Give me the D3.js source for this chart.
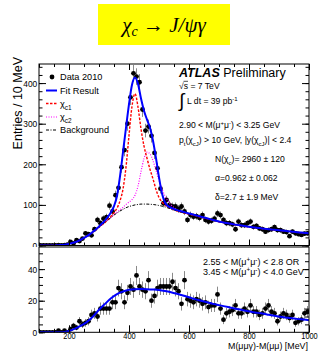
<!DOCTYPE html>
<html>
<head>
<meta charset="utf-8">
<script src="https://cdn.jsdelivr.net/npm/d3@7"></script>
<style>
  body { margin: 0; background: #fff; }
  svg { display: block; font-family: "Liberation Sans", Arial, Helvetica, sans-serif; }
</style>
</head>
<body>
<div id="chart"></div>
<script>
// bin centres (10 MeV bins from 100 to 1000 MeV)
const binCenters = d3.range(105, 1000, 10);

// signal region: entries per bin
const signalCounts = [
  0, 0, 0, 0, 0, 0, 1, 0, 1, 2,
  9, 5, 13, 11, 17, 30, 28, 25, 40, 63,
  55, 66, 70, 98, 84, 124, 142, 193, 235, 300,
  365, 424, 416, 402, 335, 283, 293, 270, 228, 190,
  140, 104, 112, 100, 96, 96, 90, 96, 84, 63,
  75, 71, 72, 68, 75, 63, 59, 61, 66, 79,
  75, 63, 55, 55, 52, 40, 59, 50, 50, 55,
  59, 46, 48, 42, 40, 34, 38, 40, 45, 38,
  38, 34, 33, 23, 34, 30, 28, 26, 29, 30
];

// sideband region: entries per bin
const sidebandCounts = [
  0, 0, 0, 0, 0, 0, 1, 0, 1, 0,
  2, 4, 3, 7, 5, 6, 7, 11, 12, 10,
  15, 15, 15, 15, 19, 19, 28, 26, 19, 25,
  29, 27, 36, 29, 27, 26, 33, 20, 23, 28,
  29, 29, 29, 29, 32, 28, 26, 18, 33, 21,
  20, 19, 21, 20, 18, 19, 16, 17, 17, 24,
  15, 8, 12, 13, 14, 17, 12, 12, 15, 13,
  17, 13, 13, 11, 12, 15, 17, 13, 12, 7,
  10, 12, 11, 9, 11, 6, 7, 8, 12, 13
];

// fit curves, sampled every 10 MeV from 100 to 1000
const fitGrid = d3.range(100, 1001, 10);
const fitTotal = [
  0, 0, 0, 0, 0, 0.2, 0.5, 1, 1.5, 2.5,
  4, 6, 8, 11, 14.5, 18.5, 23, 28, 34, 40,
  47, 54, 62, 71, 82, 97, 122, 170, 230, 290,
  348, 396, 414, 398, 362, 332, 310, 290, 258, 215,
  168, 128, 106, 97, 93, 90, 87, 85, 83, 81,
  79, 77, 75, 73, 71, 69, 67, 65, 63, 61,
  59, 57.6, 56.2, 54.8, 53.4, 52, 50.8, 49.6, 48.4, 47.2,
  46, 45.1, 44.2, 43.3, 42.4, 41.5, 40.7, 39.9, 39.1, 38.4,
  37.7, 36.9, 36.1, 35.3, 34.5, 33.7, 32.9, 32.1, 31.3, 30.6,
  30
];
const fitBkg = [
  0, 0, 0, 0, 0, 0, 0.3, 0.8, 1.5, 2.5,
  4, 6, 8, 11, 14.5, 18.5, 23, 28, 33.5, 39,
  45, 51, 57, 63, 69, 75, 80, 85, 89, 93,
  96, 98, 100, 101, 102, 102, 102, 101.5, 101, 100,
  98.5, 97, 95, 92.5, 90, 87.5, 85, 83, 81, 79,
  77.5, 75.7, 73.8, 71.9, 70, 68.1, 66.2, 64.3, 62.4, 60.5,
  58.6, 57.2, 55.8, 54.4, 53, 51.7, 50.5, 49.3, 48.1, 46.9,
  45.7, 44.8, 43.9, 43, 42.1, 41.2, 40.4, 39.6, 38.8, 38.1,
  37.4, 36.6, 35.8, 35, 34.2, 33.4, 32.6, 31.8, 31, 30.3,
  29.7
];
// chi_c1 / chi_c2 signal parts, every 10 MeV from 300 to 590 (zero elsewhere)
const peakGrid = d3.range(300, 600, 10);
const chi1Signal = [
  0, 0, 0, 1, 3, 6, 12, 25, 50, 100,
  175, 245, 274, 240, 185, 143, 113, 86, 63, 38,
  20, 10, 5, 2.5, 1, 0.5, 0, 0, 0, 0
];
const chi2Signal = [
  0, 0, 0, 0, 0, 1, 2, 3, 5, 8,
  11, 15, 24, 45, 80, 112, 128, 124, 108, 85,
  62, 42, 27, 17, 10, 6, 3, 2, 1, 0.5
];

// sideband fit, every 20 MeV from 100 to 1000
const sideFitGrid = d3.range(100, 1001, 20);
const sideFit = [
  0, 0, 0, 0, 0.1, 0.8, 2.3, 4.2, 6.6, 10,
  14.3, 18, 21.5, 24.2, 25.8, 26.9, 27.3, 27.4, 27.3, 27.1,
  26.8, 26.2, 25.4, 24.4, 23.3, 22.2, 21, 20, 19, 18,
  17.2, 16.4, 15.6, 14.8, 14, 13.3, 12.6, 12, 11.3, 10.6,
  10, 9.4, 9, 8.5, 8.1, 7.7
];

const upTicks = [0, 100, 200, 300, 400];
const lowTicks = [0, 20, 40];
const xTicks = [200, 400, 600, 800, 1000];

const W = 320, H = 351;
const svg = d3.select('#chart').append('svg').attr('width', W).attr('height', H);

// title box
svg.append('rect').attr('x', 98).attr('y', 4).attr('width', 132).attr('height', 41).attr('fill', '#ffff00');
let title = svg.append('text').attr('x', 164).attr('y', 32).attr('text-anchor', 'middle')
  .attr('font-family', '"Liberation Serif", "DejaVu Serif", serif').attr('font-size', 21);
title.append('tspan').attr('font-style', 'italic').text('χ');
title.append('tspan').attr('font-style', 'italic').attr('font-size', 14).attr('baseline-shift', '-4').text('c');
title.append('tspan').text(' → ');
title.append('tspan').attr('font-style', 'italic').text('J/ψγ');

const x = d3.scaleLinear().domain([100, 1000]).range([39, 309]);
const yUp = d3.scaleLinear().domain([0, 447]).range([245.5, 64]);
const yLow = d3.scaleLinear().domain([0, 54]).range([332.3, 247]);

function clip(id, y0, y1) {
  svg.append('clipPath').attr('id', id).append('rect')
    .attr('x', 39).attr('y', y0).attr('width', 270).attr('height', y1 - y0);
}
clip('cUp', 64, 245.5);
clip('cLow', 247, 332.3);

// ticks inside the frame, ROOT style; labels a little condensed like the original
function ticks(g, axis, major, minor, bigLen, smallLen, labels, squeeze) {
  g.append('g').call(axis.tickValues(minor).tickSize(-smallLen).tickFormat(''))
    .call(a => a.select('.domain').remove());
  let m = g.append('g').call(axis.tickValues(major).tickSize(-bigLen).tickPadding(2)
      .tickFormat(labels ? d3.format('d') : ''))
    .call(a => a.select('.domain').remove());
  m.selectAll('text').attr('font-size', 9.3).attr('fill', '#000')
    .attr('transform', 'scale(' + (squeeze || 1) + ',1)');
  g.selectAll('line').attr('stroke', '#000');
  return m;
}

function rich(sel, parts) {
  parts.forEach(p => {
    let t = sel.append('tspan').text(p.t);
    if (p.sub) t.attr('baseline-shift', '-2.5').attr('font-size', '70%');
    if (p.sup) t.attr('baseline-shift', '3.5').attr('font-size', '70%');
  });
  return sel;
}

function dataPoints(g, counts, y, clipId) {
  let pts = g.append('g').attr('clip-path', 'url(#' + clipId + ')');
  pts.selectAll('line').data(binCenters).enter().append('line')
    .attr('x1', d => x(d)).attr('x2', d => x(d))
    .attr('y1', (d, i) => y(counts[i] + Math.sqrt(counts[i])))
    .attr('y2', (d, i) => y(Math.max(0, counts[i] - Math.sqrt(counts[i]))))
    .attr('stroke', '#8a8a8a').attr('stroke-width', 1);
  pts.selectAll('circle').data(binCenters).enter().append('circle')
    .attr('cx', d => x(d)).attr('cy', (d, i) => y(counts[i]))
    .attr('r', 2.4).attr('fill', '#000');
}

// ---------- upper panel ----------
let up = svg.append('g');
const lineUp = d3.line().curve(d3.curveMonotoneX).x(d => x(d[0])).y(d => yUp(d[1]));
const withSignal = sig => fitGrid.map((m, i) => {
  let k = peakGrid.indexOf(m);
  return [m, fitBkg[i] + (k >= 0 ? sig[k] : 0)];
});

dataPoints(up, signalCounts, yUp, 'cUp');

let curves = up.append('g').attr('clip-path', 'url(#cUp)').attr('fill', 'none');
curves.append('path').attr('d', lineUp(withSignal(chi2Signal)))
  .attr('stroke', '#ff00ff').attr('stroke-width', 1.2).attr('stroke-dasharray', '1,1.5');
curves.append('path').attr('d', lineUp(withSignal(chi1Signal)))
  .attr('stroke', '#ff0000').attr('stroke-width', 1.4).attr('stroke-dasharray', '2.5,1.5');
curves.append('path').attr('d', lineUp(fitGrid.map((m, i) => [m, fitBkg[i]])))
  .attr('stroke', '#000').attr('stroke-width', 1).attr('stroke-dasharray', '3,1.5,1,1.5');
curves.append('path').attr('d', lineUp(fitGrid.map((m, i) => [m, fitTotal[i]])))
  .attr('stroke', '#0000ff').attr('stroke-width', 2);

up.append('rect').attr('x', 39).attr('y', 64).attr('width', 270).attr('height', 181.5)
  .attr('fill', 'none').attr('stroke', '#000');

const upMinor = d3.range(0, 447, 20);
const xMinor = d3.range(100, 1001, 50);
ticks(up.append('g').attr('transform', 'translate(39,0)'), d3.axisLeft(yUp), upTicks, upMinor, 7, 3.5, true, 0.9);
ticks(up.append('g').attr('transform', 'translate(309,0)'), d3.axisRight(yUp), upTicks, upMinor, 7, 3.5, false);
ticks(up.append('g').attr('transform', 'translate(0,64)'), d3.axisTop(x), xTicks, xMinor, 6, 3, false);
ticks(up.append('g').attr('transform', 'translate(0,245.5)'), d3.axisBottom(x), xTicks, xMinor, 6, 3, false);

up.append('text').attr('transform', 'translate(21.5,57) rotate(-90)').attr('text-anchor', 'end')
  .attr('font-size', 12.5).text('Entries / 10 MeV');

// legend
const legendRows = [
  { label: [{ t: 'Data 2010' }], y: 77 },
  { label: [{ t: 'Fit Result' }], y: 90.5, color: '#0000ff', w: 2, dash: null },
  { label: [{ t: 'χ' }, { t: 'c1', sub: true }], y: 103.5, color: '#ff0000', w: 1.4, dash: '2.5,1.5' },
  { label: [{ t: 'χ' }, { t: 'c2', sub: true }], y: 117, color: '#ff00ff', w: 1.2, dash: '1,1.5' },
  { label: [{ t: 'Background' }], y: 130, color: '#000', w: 1, dash: '3,1.5,1,1.5' }
];
let leg = up.append('g');
legendRows.forEach((r, i) => {
  if (i === 0) {
    leg.append('circle').attr('cx', 52).attr('cy', r.y).attr('r', 2.4).attr('fill', '#000');
  } else {
    leg.append('line').attr('x1', 46).attr('x2', 57).attr('y1', r.y).attr('y2', r.y)
      .attr('stroke', r.color).attr('stroke-width', r.w).attr('stroke-dasharray', r.dash);
  }
  rich(leg.append('text').attr('x', 60).attr('y', r.y + 3.3).attr('font-size', 9.2), r.label);
});

// ATLAS labels
let atlas = up.append('text').attr('x', 179).attr('y', 76.5).attr('font-size', 12.5);
atlas.append('tspan').attr('font-weight', 'bold').attr('font-style', 'italic').text('ATLAS');
atlas.append('tspan').text(' Preliminary');

let info = up.append('g').attr('font-size', 8.6);
info.append('text').attr('x', 179).attr('y', 89).text('√s = 7 TeV');
info.append('line').attr('x1', 183.5).attr('x2', 188).attr('y1', 81.3).attr('y2', 81.3).attr('stroke', '#000').attr('stroke-width', 0.7);
info.append('text').attr('x', 179).attr('y', 107).attr('font-size', 19).attr('font-family', '"DejaVu Sans", sans-serif').attr('font-weight', 200).text('∫');
rich(info.append('text').attr('x', 187).attr('y', 104), [{ t: 'L dt = 39 pb' }, { t: '-1', sup: true }]);
rich(info.append('text').attr('x', 179).attr('y', 128),
  [{ t: '2.90 < M(μ' }, { t: '+', sup: true }, { t: 'μ' }, { t: '-', sup: true }, { t: ') < 3.25 GeV' }]);
rich(info.append('text').attr('x', 179).attr('y', 143),
  [{ t: 'p' }, { t: 't', sub: true }, { t: '(χ' }, { t: 'cJ', sub: true }, { t: ') > 10 GeV, |y(χ' }, { t: 'cJ', sub: true }, { t: ')| < 2.4' }]);
rich(info.append('text').attr('x', 215).attr('y', 162), [{ t: 'N(χ' }, { t: 'c', sub: true }, { t: ')= 2960 ± 120' }]);
info.append('text').attr('x', 215).attr('y', 181).text('α=0.962 ± 0.062');
info.append('text').attr('x', 215).attr('y', 199.5).text('δ=2.7 ± 1.9 MeV');

// ---------- lower panel ----------
svg.append('rect').attr('x', 0).attr('y', 247).attr('width', W).attr('height', H - 247).attr('fill', '#fff');
let low = svg.append('g');
dataPoints(low, sidebandCounts, yLow, 'cLow');
low.append('path').attr('clip-path', 'url(#cLow)')
  .attr('d', d3.line().curve(d3.curveMonotoneX).x(d => x(d[0])).y(d => yLow(d[1]))(sideFitGrid.map((m, i) => [m, sideFit[i]])))
  .attr('fill', 'none').attr('stroke', '#0000ff').attr('stroke-width', 2);

low.append('rect').attr('x', 39).attr('y', 247).attr('width', 270).attr('height', 85.3)
  .attr('fill', 'none').attr('stroke', '#000');

const lowMinor = d3.range(0, 55, 5);
ticks(low.append('g').attr('transform', 'translate(39,0)'), d3.axisLeft(yLow), lowTicks, lowMinor, 6, 4, true, 0.9);
ticks(low.append('g').attr('transform', 'translate(309,0)'), d3.axisRight(yLow), lowTicks, lowMinor, 6, 4, false);
let xb = ticks(low.append('g').attr('transform', 'translate(0,332.3)'), d3.axisBottom(x), xTicks, xMinor, 7, 3.5, true, 0.86);
xb.selectAll('text').attr('font-size', 8.6).attr('y', 6.3).attr('dy', 0);

rich(low.append('text').attr('x', 203).attr('y', 264.5).attr('font-size', 9),
  [{ t: '2.55 < M(μ' }, { t: '+', sup: true }, { t: 'μ' }, { t: '-', sup: true }, { t: ') < 2.8 OR' }]);
rich(low.append('text').attr('x', 203).attr('y', 274.5).attr('font-size', 9),
  [{ t: '3.45 < M(μ' }, { t: '+', sup: true }, { t: 'μ' }, { t: '-', sup: true }, { t: ') < 4.0 GeV' }]);

low.append('text').attr('x', 308).attr('y', 349).attr('text-anchor', 'end').attr('font-size', 9.5)
  .attr('textLength', 80).attr('lengthAdjust', 'spacingAndGlyphs')
  .text('M(μμγ)-M(μμ) [MeV]');
</script>
</body>
</html>
